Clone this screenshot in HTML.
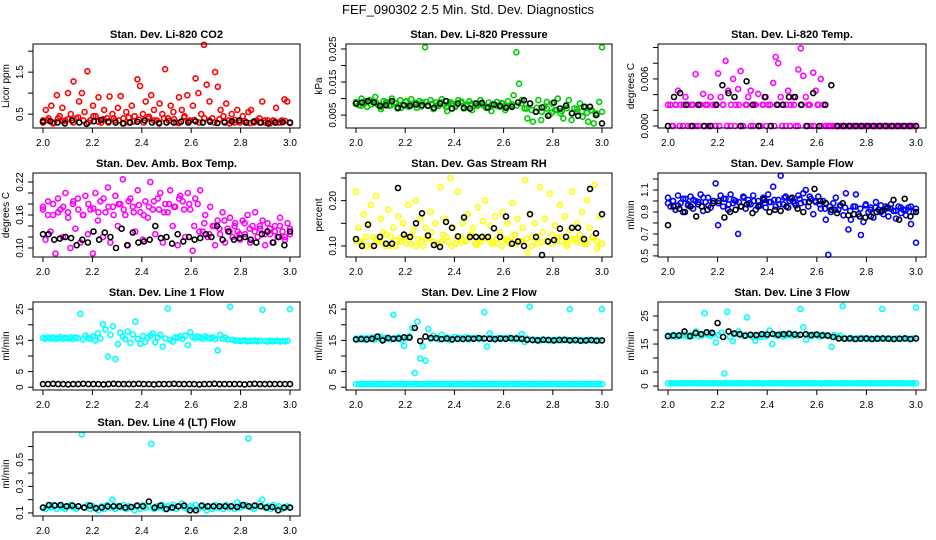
<!DOCTYPE html>
<html><head><meta charset="utf-8"><style>
body{margin:0;background:#fff;}
svg{display:block;font-family:"Liberation Sans",sans-serif;}
</style></head><body>
<svg id="chart" width="936" height="540" viewBox="0 0 936 540">
<rect width="936" height="540" fill="#fff"/>
<text x="468" y="14" text-anchor="middle" font-size="13">FEF_090302  2.5 Min. Std. Dev. Diagnostics</text>
</svg>
<script>
const xTicks = [2.0, 2.2, 2.4, 2.6, 2.8, 3.0];
const xTickLabels = ["2.0", "2.2", "2.4", "2.6", "2.8", "3.0"];

const co2Main = [0.35,0.6,0.4,0.7,0.3,0.95,0.45,0.65,0.35,1.0,0.5,1.28,0.4,0.8,1.0,0.55,1.52,0.35,0.7,0.45,0.9,0.3,0.6,0.4,0.92,0.5,0.35,0.65,0.93,0.4,0.55,0.3,0.7,0.45,1.33,1.17,0.5,0.8,0.4,0.95,0.6,0.35,0.75,0.5,1.57,0.4,0.7,0.55,0.3,0.9,0.6,0.45,0.95,0.35,0.7,1.35,1.0,0.5,2.15,1.2,0.8,0.4,1.5,1.15,0.6,0.45,0.75,0.35,0.5,0.3,0.6,0.35,0.45,0.3,0.55,0.6,0.3,0.35,0.4,0.8,0.3,0.35,0.3,0.35,0.65,0.3,0.35,0.85,0.8,0.3];
const co2Band = [0.3,0.35,0.28,0.4,0.33,0.38,0.3,0.42,0.35,0.3,0.45,0.32,0.38,0.3,0.4,0.35,0.28,0.42,0.33,0.37,0.3,0.44,0.35,0.3,0.4,0.34,0.38,0.29,0.42,0.33,0.36,0.3,0.4,0.35,0.3,0.38,0.33,0.28,0.36,0.3,0.34,0.29,0.33,0.3,0.35,0.28,0.32,0.3,0.34,0.29];
const co2Black = [0.32,0.33,0.3,0.28,0.35,0.3,0.27,0.33,0.36,0.32,0.3,0.28,0.3,0.32,0.35,0.3,0.28,0.3,0.3,0.32,0.3,0.33,0.3,0.32,0.29,0.3,0.33,0.35,0.3,0.32,0.3,0.28,0.3,0.31,0.3];

const presMain = [0.009,0.008,0.010,0.0085,0.0075,0.0095,0.009,0.0105,0.008,0.0068,0.0092,0.0085,0.0078,0.01,0.0088,0.007,0.0095,0.0082,0.009,0.0075,0.0098,0.0085,0.0072,0.0092,0.0088,0.0255,0.008,0.0095,0.0068,0.0088,0.0078,0.0098,0.0082,0.0062,0.009,0.0085,0.0075,0.0095,0.0088,0.007,0.0082,0.0092,0.0065,0.0085,0.0078,0.0095,0.008,0.0072,0.0088,0.0062,0.0082,0.009,0.0075,0.0085,0.0065,0.0092,0.0078,0.011,0.024,0.0145,0.0095,0.007,0.004,0.0085,0.003,0.006,0.0095,0.0035,0.0075,0.009,0.005,0.0085,0.0065,0.01,0.0055,0.004,0.008,0.0095,0.0035,0.007,0.006,0.0085,0.0045,0.0075,0.003,0.0065,0.0025,0.0055,0.009,0.0255];
const presBand = [0.0085,0.0078,0.0092,0.0082,0.0088,0.0075,0.009,0.008,0.0086,0.0072,0.0092,0.0081,0.0087,0.0076,0.009,0.0083,0.0079,0.0088,0.0074,0.0085,0.008,0.0091,0.0077,0.0084,0.0079,0.0086,0.0073,0.0082,0.0078,0.0087,0.0075,0.0083,0.0079,0.0086,0.007,0.0065,0.0072,0.006,0.007,0.0058,0.0066,0.0062,0.0071,0.0056,0.0068,0.0061,0.0057,0.0064,0.0052,0.006];
const presBlack = [0.0085,0.0088,0.0092,0.0088,0.0078,0.008,0.0092,0.0072,0.008,0.0078,0.0082,0.008,0.0078,0.0072,0.0085,0.0092,0.007,0.0085,0.0072,0.007,0.0085,0.0087,0.0073,0.0082,0.0078,0.0072,0.0075,0.0088,0.0095,0.0085,0.006,0.0073,0.0048,0.0088,0.007,0.0078,0.0055,0.0048,0.0075,0.0075,0.005,0.0025];

const tempMain = [0,0.0027,0,0.0027,0.0045,0.0027,0,0.0037,0.0027,0,0.0027,0.0066,0,0.0027,0.0041,0.0027,0,0.0037,0.0027,0,0.0067,0.0037,0.0027,0.0083,0.0045,0,0.0060,0.0027,0.0047,0.0070,0,0.0027,0.0037,0.0045,0,0.0027,0.0041,0,0.0027,0.0037,0.0027,0,0.0055,0.0088,0.0080,0.0037,0.0027,0,0.0045,0.0027,0.0037,0,0.0072,0.0099,0.0064,0.0037,0.0027,0,0.0068,0.0045,0.0027,0.0060,0.0027,0,0,0,0,0,0,0,0,0,0,0,0,0,0,0,0,0,0,0,0,0,0,0,0,0,0,0,0,0,0,0,0,0,0,0,0,0];
const tempBand = [0.0027,0,0.0027,0,0.0027,0,0.0027,0,0.0027,0,0.0027,0,0.0027,0,0.0027,0,0.0027,0,0.0027,0,0.0027,0,0.0027,0,0.0027,0,0.0027,0,0.0027,0,0.0027,0,0.0027,0,0.0027,0,0.0027,0,0.0027,0,0,0,0,0,0,0,0,0,0,0,0,0,0,0,0,0,0,0,0,0,0,0,0,0];
const tempBlack = [0,0.0037,0.0042,0.0027,0,0.0027,0,0,0.0027,0.0052,0.0042,0.0037,0,0.0057,0.0027,0,0.0037,0,0.0027,0.0027,0.0037,0.0037,0.0027,0,0.0042,0,0.0027,0.0052,0,0,0,0,0,0,0,0,0,0,0,0,0,0];

const ambMain = [0.175,0.115,0.185,0.13,0.16,0.09,0.19,0.17,0.12,0.2,0.165,0.1,0.18,0.135,0.19,0.11,0.16,0.195,0.125,0.17,0.09,0.2,0.15,0.185,0.12,0.165,0.21,0.11,0.175,0.195,0.14,0.18,0.225,0.16,0.105,0.19,0.175,0.13,0.205,0.165,0.115,0.185,0.155,0.22,0.17,0.125,0.19,0.2,0.11,0.18,0.165,0.205,0.14,0.175,0.105,0.195,0.185,0.12,0.2,0.17,0.095,0.19,0.18,0.205,0.13,0.16,0.12,0.175,0.14,0.105,0.15,0.125,0.165,0.11,0.135,0.155,0.12,0.145,0.13,0.115,0.15,0.125,0.16,0.11,0.14,0.165,0.12,0.135,0.15,0.105,0.145,0.125,0.11,0.14,0.12,0.155,0.13,0.115,0.145,0.125];
const ambBand = [0.17,0.16,0.18,0.165,0.175,0.155,0.185,0.17,0.16,0.18,0.172,0.165,0.19,0.175,0.16,0.18,0.17,0.185,0.165,0.178,0.16,0.175,0.185,0.17,0.165,0.18,0.175,0.19,0.17,0.18,0.14,0.13,0.145,0.125,0.14,0.135,0.15,0.13,0.14,0.125,0.145,0.135,0.13,0.14,0.125,0.135,0.13,0.14,0.12,0.135];
const ambBlack = [0.125,0.125,0.115,0.117,0.12,0.118,0.105,0.115,0.11,0.13,0.115,0.128,0.12,0.1,0.135,0.105,0.128,0.11,0.112,0.115,0.14,0.118,0.12,0.108,0.125,0.112,0.12,0.115,0.118,0.125,0.12,0.14,0.115,0.13,0.115,0.118,0.12,0.115,0.11,0.125,0.13,0.11,0.12,0.105,0.13];

const rhMain = [0.22,0.14,0.11,0.17,0.10,0.15,0.19,0.12,0.21,0.11,0.16,0.13,0.10,0.18,0.12,0.14,0.10,0.165,0.11,0.15,0.12,0.19,0.105,0.135,0.2,0.115,0.16,0.10,0.14,0.12,0.175,0.11,0.15,0.105,0.23,0.125,0.16,0.11,0.25,0.14,0.105,0.22,0.12,0.15,0.11,0.17,0.125,0.14,0.105,0.185,0.115,0.155,0.2,0.12,0.145,0.11,0.165,0.105,0.13,0.175,0.115,0.15,0.105,0.195,0.125,0.16,0.11,0.14,0.245,0.085,0.17,0.12,0.15,0.105,0.23,0.13,0.16,0.11,0.215,0.125,0.145,0.11,0.19,0.12,0.165,0.105,0.135,0.22,0.115,0.15,0.125,0.175,0.105,0.2,0.14,0.12,0.235,0.095,0.165,0.105];
const rhBand = [0.11,0.105,0.12,0.1,0.115,0.108,0.125,0.1,0.112,0.118,0.105,0.122,0.1,0.11,0.115,0.13,0.105,0.11,0.12,0.1,0.115,0.108,0.112,0.125,0.102,0.11,0.118,0.105,0.115,0.1,0.112,0.12,0.105,0.11,0.115,0.1,0.118,0.108,0.112,0.105,0.12,0.11,0.1,0.115,0.108,0.112,0.105,0.118,0.11,0.105];
const rhBlack = [0.115,0.1,0.147,0.1,0.12,0.105,0.105,0.228,0.125,0.12,0.15,0.172,0.123,0.102,0.098,0.153,0.14,0.121,0.163,0.12,0.12,0.12,0.12,0.139,0.12,0.165,0.105,0.11,0.1,0.17,0.12,0.08,0.11,0.113,0.138,0.12,0.14,0.14,0.115,0.226,0.128,0.17];

const flowMain = [1.03,0.95,1.0,0.92,1.05,0.98,0.9,1.02,0.96,1.04,0.93,1.0,0.97,1.06,0.91,0.99,1.03,0.94,1.0,1.16,0.78,1.05,0.95,1.02,0.92,1.06,0.98,1.0,0.7,0.95,1.04,0.93,1.01,0.97,1.05,0.92,1.0,0.96,1.03,0.94,1.06,0.99,1.13,0.95,1.01,1.23,0.97,1.04,0.94,1.02,1.0,0.96,1.05,0.98,1.07,1.1,0.95,1.02,0.88,0.99,1.04,0.93,1.0,0.83,0.51,0.9,0.98,1.03,0.92,0.96,0.87,1.07,0.74,0.83,0.95,1.06,0.88,0.69,0.81,0.97,0.9,0.94,0.85,0.99,0.92,0.96,0.88,0.93,0.86,0.97,0.91,0.84,0.95,0.89,0.92,0.87,0.94,0.79,0.9,0.62];
const flowBand = [0.98,1.0,0.96,1.02,0.97,1.01,0.99,1.03,0.96,1.0,0.98,1.02,0.97,1.01,0.99,1.03,0.98,1.0,0.96,1.02,0.99,1.01,0.97,1.03,1.0,0.98,1.02,0.99,1.04,1.0,0.97,0.93,0.95,0.92,0.96,0.94,0.91,0.95,0.93,0.96,0.92,0.94,0.9,0.95,0.93,0.91,0.94,0.92,0.95,0.93];
const flowBlack = [0.78,0.95,0.93,0.9,0.95,0.86,0.95,0.92,0.98,1.0,0.85,0.9,0.92,0.95,0.97,0.89,0.95,1.01,0.9,0.92,0.91,0.95,1.03,0.93,0.9,0.99,1.11,1.0,0.98,0.92,0.89,0.98,0.87,0.88,0.86,0.85,0.86,0.9,0.91,0.94,1.01,0.83,1.02,0.86,0.9];

const line1Main = [15.8,15.5,16.0,15.6,15.9,15.4,15.7,16.1,15.5,15.8,15.6,16.0,15.4,15.9,15.7,23.5,15.3,16.5,15.8,15.5,16.2,15.0,17.2,15.6,20.2,18.5,9.8,16.8,19.5,9.0,13.8,17.5,16.2,15.4,17.8,14.2,16.9,21.0,15.5,13.9,16.4,14.5,15.8,16.5,17.2,14.4,15.9,16.8,13.0,15.6,25.2,15.2,14.6,16.0,15.8,16.3,15.5,16.5,13.5,17.6,16.1,15.7,16.2,15.9,15.5,16.3,15.8,15.6,16.0,15.4,11.8,16.8,15.5,15.9,15.3,25.8,15.2,14.9,15.0,14.8,14.9,15.0,14.7,14.9,14.8,15.0,14.7,14.9,24.8,14.8,14.6,14.9,14.7,14.8,14.9,14.6,14.8,14.7,14.9,25.0];
const line1Black = [1,1,1.1,1,1,0.9,1,1,1.1,1,1,1,0.9,1,1.1,1,1,1,1,1.1,1,1,0.9,1,1,1,1.1,1,1,1,1,0.9,1,1,1.1,1,1,1,1,1,0.9,1,1.1,1,1,1,1,1,1,1];

const line2Main = [15.6,15.4,15.8,15.3,15.7,15.5,15.9,15.2,15.6,16.2,15.4,15.8,15.5,15.3,23.2,15.7,16.0,15.2,13.2,15.8,16.3,19.0,4.5,21.0,9.2,13.1,8.5,18.6,15.4,16.5,15.8,15.3,16.8,15.5,15.9,15.2,15.7,16.1,15.4,15.8,15.6,16.0,15.3,15.7,15.5,15.9,15.4,15.6,24.0,13.0,17.2,15.6,15.3,15.8,15.5,15.7,15.4,15.9,15.6,15.3,15.8,15.5,17.0,14.5,15.6,25.8,15.3,15.1,15.2,15.0,15.3,15.1,15.2,15.0,15.2,15.1,15.3,15.0,15.1,15.2,25.0,15.1,15.0,15.2,15.1,14.9,15.0,15.2,15.1,14.9,15.1,15.0,25.0];
const line2Low = [1,1,1,1,1,1,1,1,1,1,1,1,1,1,1,1,1,1,1,1,1,1,1,1,1,1,1,1,1,1,1,1,1,1,1,1,1,1,1,1,1,1,1,1,1,1,1,1,1,1,1,1,1,1,1,1,1,1,1,1,1,1,1,1,1,1,1,1,1,1,1,1,1,1,1,1,1,1,1,1];
const line2Black = [15.3,15.4,15.3,15.5,16.2,15.0,15.8,15.5,15.6,16.0,15.9,19.0,14.8,16.2,15.8,15.7,15.4,15.6,15.3,15.5,15.4,15.6,15.5,15.7,15.6,15.5,15.4,15.6,15.5,15.7,15.6,15.5,15.2,15.1,15.0,15.2,15.1,15.0,15.1,15.2,15.0,15.1,14.9,15.0,15.1,14.9,15.0];

const line3Main = [18.0,17.8,18.3,17.6,18.1,17.9,18.4,17.7,18.2,18.0,19.5,17.8,18.1,26.0,18.4,17.9,18.5,15.5,18.2,19.0,4.5,26.5,17.5,16.0,18.6,19.5,18.2,17.8,24.5,18.3,17.6,16.2,18.0,17.5,18.4,17.8,19.8,15.0,18.2,17.9,18.5,17.7,18.1,18.3,17.9,18.6,18.0,27.5,21.0,16.5,18.2,17.8,18.4,18.0,17.7,18.3,18.1,17.9,14.0,18.2,17.8,18.0,28.5,17.0,16.9,17.1,16.8,17.0,16.9,17.1,16.8,16.9,17.0,16.8,17.1,16.9,27.5,16.8,17.0,16.9,16.8,17.0,16.9,16.8,17.1,16.9,16.8,17.0,28.0];
const line3Low = [1,1,1,1,1,1,1,1,1,1,1,1,1,1,1,1,1,1,1,1,1,1,1,1,1,1,1,1,1,1,1,1,1,1,1,1,1,1,1,1,1,1,1,1,1,1,1,1,1,1,1,1,1,1,1,1,1,1,1,1,1,1,1,1,1,1,1,1,1,1,1,1,1,1,1,1,1,1,1,1];
const line3Black = [17.8,18.0,18.1,19.5,17.8,18.9,18.5,19.2,19.0,22.5,17.5,19.5,18.8,18.5,18.0,18.3,18.2,18.5,18.4,18.6,18.3,18.5,18.7,18.4,18.3,18.5,18.2,18.4,18.1,18.0,17.5,17.0,16.9,17.0,16.8,16.9,17.0,16.8,16.9,17.0,16.9,16.8,16.9,17.0,16.8,17.0];

const line4Main = [0.14,0.13,0.15,0.14,0.16,0.13,0.15,0.14,0.13,0.15,0.16,0.14,0.13,0.15,0.69,0.14,0.16,0.13,0.15,0.14,0.12,0.15,0.13,0.16,0.14,0.2,0.13,0.15,0.14,0.16,0.13,0.15,0.14,0.12,0.15,0.13,0.16,0.14,0.15,0.62,0.13,0.15,0.14,0.16,0.13,0.15,0.14,0.16,0.13,0.15,0.17,0.14,0.13,0.15,0.14,0.16,0.13,0.15,0.14,0.12,0.15,0.13,0.16,0.14,0.15,0.13,0.16,0.14,0.15,0.13,0.18,0.14,0.15,0.16,0.66,0.14,0.13,0.15,0.17,0.2,0.14,0.15,0.13,0.16,0.14,0.15,0.13,0.14,0.15,0.14];
const line4Black = [0.14,0.16,0.155,0.16,0.15,0.155,0.15,0.14,0.155,0.135,0.14,0.15,0.15,0.15,0.14,0.145,0.155,0.15,0.185,0.14,0.155,0.13,0.14,0.15,0.155,0.12,0.12,0.155,0.15,0.15,0.15,0.15,0.15,0.145,0.16,0.15,0.155,0.15,0.14,0.145,0.12,0.14,0.14];

const panels = [
 {name:"co2", title:"Stan. Dev. Li-820 CO2", ylab:"Licor ppm", col:0,row:0, ymin:0.17,ymax:2.17, ticks:[0.5,1.0,1.5,2.0], labels:["0.5","","1.5",""], series:[[co2Band,"#ff0000"],[co2Main,"#ff0000"],[co2Black,"#000"]]},
 {name:"pressure", title:"Stan. Dev. Li-820 Pressure", ylab:"kPa", col:1,row:0, ymin:0.0011,ymax:0.0265, ticks:[0.005,0.01,0.015,0.02,0.025], labels:["0.005","","0.015","","0.025"], series:[[presBand,"#00cc00"],[presMain,"#00cc00"],[presBlack,"#000"]]},
 {name:"temp", title:"Stan. Dev. Li-820 Temp.", ylab:"degrees C", col:2,row:0, ymin:-0.00025,ymax:0.01045, ticks:[0,0.002,0.004,0.006,0.008,0.010], labels:["0.000","","","0.006","",""], series:[[tempBand,"#ff00ff"],[tempMain,"#ff00ff"],[tempBlack,"#000"]]},
 {name:"amb-temp", title:"Stan. Dev. Amb. Box Temp.", ylab:"degrees C", col:0,row:1, ymin:0.0836,ymax:0.2364, ticks:[0.10,0.12,0.14,0.16,0.18,0.20,0.22], labels:["0.10","","","0.16","","","0.22"], series:[[ambBand,"#ff00ff"],[ambMain,"#ff00ff"],[ambBlack,"#000"]]},
 {name:"rh", title:"Stan. Dev. Gas Stream RH", ylab:"percent", col:1,row:1, ymin:0.0756,ymax:0.261, ticks:[0.10,0.15,0.20,0.25], labels:["0.10","","0.20",""], series:[[rhBand,"#ffff00"],[rhMain,"#ffff00"],[rhBlack,"#000"]]},
 {name:"sample-flow", title:"Stan. Dev. Sample Flow", ylab:"ml/min", col:2,row:1, ymin:0.49,ymax:1.255, ticks:[0.5,0.6,0.7,0.8,0.9,1.0,1.1,1.2], labels:["0.5","","0.7","","0.9","","1.1",""], series:[[flowBand,"#0000ff"],[flowMain,"#0000ff"],[flowBlack,"#000"]]},
 {name:"line1", title:"Stan. Dev. Line 1 Flow", ylab:"ml/min", col:0,row:2, ymin:-0.9,ymax:27.3, ticks:[0,5,10,15,20,25], labels:["0","5","","15","","25"], series:[[line1Main,"#00ffff"],[line1Black,"#000"]]},
 {name:"line2", title:"Stan. Dev. Line 2 Flow", ylab:"ml/min", col:1,row:2, ymin:-0.9,ymax:27.3, ticks:[0,5,10,15,20,25], labels:["0","5","","15","","25"], series:[[line2Low,"#00ffff"],[line2Main,"#00ffff"],[line2Black,"#000"]]},
 {name:"line3", title:"Stan. Dev. Line 3 Flow", ylab:"ml/min", col:2,row:2, ymin:-1.4,ymax:30, ticks:[0,5,10,15,20,25], labels:["0","5","","15","","25"], series:[[line3Low,"#00ffff"],[line3Main,"#00ffff"],[line3Black,"#000"]]},
 {name:"line4", title:"Stan. Dev. Line 4 (LT) Flow", ylab:"ml/min", col:0,row:3, ymin:0.077,ymax:0.709, ticks:[0.1,0.2,0.3,0.4,0.5,0.6], labels:["0.1","","0.3","","0.5",""], series:[[line4Main,"#00ffff"],[line4Black,"#000"]]}
];

const colL = [33, 346, 658], colR = [300, 612, 926];
const rowT = [44, 173, 302, 432], rowB = [128, 257, 390, 516];
const NS = "http://www.w3.org/2000/svg";
const svg = document.getElementById("chart");
function mk(tag, attrs, parent){const e=document.createElementNS(NS,tag);for(const k in attrs)e.setAttribute(k,attrs[k]);(parent||svg).appendChild(e);return e;}

panels.forEach(p=>{
  const L=colL[p.col], R=colR[p.col], T=rowT[p.row], B=rowB[p.row];
  const g = mk("g",{});
  
  
  const xs = v => (L+10) + (v-2.0)*((R-L)-20);
  const ys = v => B - (v-p.ymin)/(p.ymax-p.ymin)*(B-T);
  const t = mk("text",{x:(L+R)/2,y:T-6,"text-anchor":"middle","font-size":"11","font-weight":"bold"},g);
  t.textContent = p.title;
  
  
  // points
  p.series.forEach(([arr,color],si)=>{
    const sg = mk("g",{fill:"none",stroke:color,"stroke-width":"1.6"},g);
    
    
    const n = arr.length;
    arr.forEach((v,i)=>{
      const xv = 2.0 + i/(n-1);
      const c = mk("circle",{cx:xs(xv).toFixed(1),cy:ys(v).toFixed(1),r:"2.5"},sg);
      
      
    });
  });
  const box = mk("rect",{x:L,y:T,width:R-L,height:B-T,fill:"none",stroke:"#000","stroke-width":"1"},g);
  
  
  // x axis
  xTicks.forEach((v,i)=>{
    const x = xs(v);
    mk("line",{x1:x,x2:x,y1:B,y2:B+5,stroke:"#000"},g);
    const tl = mk("text",{x:x,y:B+18,"text-anchor":"middle","font-size":"10"},g);
    tl.textContent = xTickLabels[i];
    
    
  });
  // y axis
  p.ticks.forEach((v,i)=>{
    const y = ys(v);
    mk("line",{x1:L-5,x2:L,y1:y,y2:y,stroke:"#000"},g);
    if(p.labels[i]){
      const tl = mk("text",{x:0,y:0,"text-anchor":"middle","font-size":"10",transform:`translate(${L-10},${y}) rotate(-90)`},g);
      tl.textContent = p.labels[i];
      
      
    }
  });
  const yl = mk("text",{x:0,y:0,"text-anchor":"middle","font-size":"10",transform:`translate(${L-24},${(T+B)/2}) rotate(-90)`},g);
  yl.textContent = p.ylab;
  
  
});
</script>
</body></html>
